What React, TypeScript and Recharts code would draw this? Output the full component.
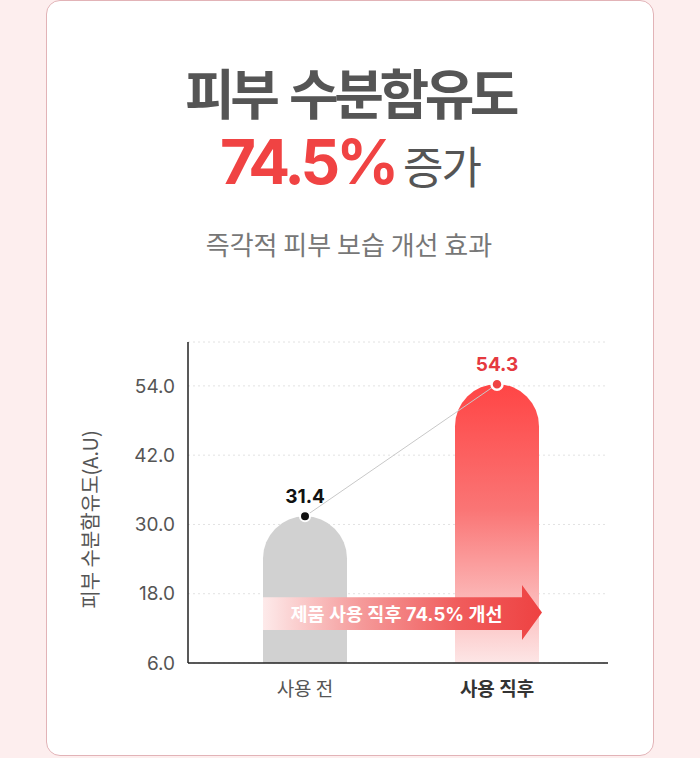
import React from 'react';
import {
  ComposedChart,
  Bar,
  Line,
  XAxis,
  YAxis,
  CartesianGrid,
  Cell,
  LabelList,
  ReferenceArea,
} from 'recharts';

const categories = ['사용 전', '사용 직후'];
const values = [31.4, 54.3];
const yTicks = [6, 18, 30, 42, 54];
const yDomain = [6, 61.6];
const arrowRange = [10, 19.5];
const titleText = '피부 수분함유도';
const percentText = '74.5%';
const increaseText = '증가';
const subtitleText = '즉각적 피부 보습 개선 효과';
const yAxisLabel = '피부 수분함유도(A.U)';
const arrowText = '제품 사용 직후 74.5% 개선';

const data = categories.map((name, i) => ({ name, value: values[i] }));

const BAR_SIZE = 84;
const FONT = '"Inter", "Noto Sans CJK KR", sans-serif';
const KFONT = '"Noto Sans CJK KR", "Inter", sans-serif';
const RED = '#f04343';

const XTick = (props: any) => {
  const { x, y, payload, index } = props;
  const bold = index === 1;
  return (
    <text
      x={x}
      y={y + 33}
      textAnchor="middle"
      fontSize={19}
      fontFamily={KFONT}
      fontWeight={bold ? 700 : 400}
      fill={bold ? '#333' : '#555'}
    >
      {payload.value}
    </text>
  );
};

const Dot = (props: any) => {
  const { cx, cy, index } = props;
  if (cx == null || cy == null) return null;
  if (index === 1) {
    return <circle key={`d${index}`} cx={cx} cy={cy} r={5.5} fill={RED} stroke="#fff" strokeWidth={2.5} />;
  }
  return <circle key={`d${index}`} cx={cx} cy={cy} r={5} fill="#111" stroke="#fff" strokeWidth={2} />;
};

const ValueLabel = (props: any) => {
  const { x, y, value, index } = props;
  return (
    <text
      x={x}
      y={y - 20}
      textAnchor="middle"
      dominantBaseline="central"
      fontSize={19}
      fontWeight={700}
      fontFamily={FONT}
      fill={index === 1 ? '#e5393f' : '#111'}
    >
      {Number(value).toFixed(1)}
    </text>
  );
};

const ArrowShape = (props: any) => {
  const { x, y, width, height } = props;
  const band = width / 2;
  const left = x + band / 2 - BAR_SIZE / 2;
  const tip = x + width - band / 2 + BAR_SIZE / 2 + 3;
  const headBase = tip - 20;
  const bodyTop = y + height * 0.22;
  const bodyBot = y + height * 0.82;
  const midY = (y + height / 2);
  const d = `M${left},${bodyTop} L${headBase},${bodyTop} L${headBase},${y} L${tip},${midY} L${headBase},${y + height} L${headBase},${bodyBot} L${left},${bodyBot} Z`;
  return (
    <g>
      <path d={d} fill="url(#arrowGrad)" />
      <text
        x={(left + headBase) / 2 + 4}
        y={(bodyTop + bodyBot) / 2}
        textAnchor="middle"
        dominantBaseline="central"
        fontSize={18.5}
        fontWeight={700}
        fontFamily={FONT}
        fill="#fff"
      >
        {arrowText}
      </text>
    </g>
  );
};

const YLabel = (props: any) => {
  const vb = props.viewBox || {};
  const cx = vb.x + 29;
  const cy = vb.y + vb.height / 2 + 17;
  return (
    <text
      x={cx}
      y={cy}
      transform={`rotate(-90, ${cx}, ${cy})`}
      textAnchor="middle"
      dominantBaseline="central"
      fontSize={20}
      fontFamily={KFONT}
      fill="#555"
    >
      {yAxisLabel}
    </text>
  );
};

export default function App() {
  return (
    <div
      style={{
        position: 'absolute',
        left: 0,
        top: 0,
        width: 700,
        height: 758,
        background: '#fdeeee',
        overflow: 'hidden',
      }}
    >
      <div
        style={{
          position: 'absolute',
          left: 46,
          top: 0,
          width: 606,
          height: 754,
          background: '#fff',
          border: '1.5px solid #e2b3b7',
          borderRadius: 14,
        }}
      />
      <svg width={700} height={300} style={{ position: 'absolute', left: 0, top: 0 }}>
        <text
          x={350}
          y={115}
          textAnchor="middle"
          fontSize={54}
          fontWeight={700}
          fontFamily={KFONT}
          fill="#555"
          letterSpacing={-4.5}
          wordSpacing={6}
        >
          {titleText}
        </text>
        <text x={350} y={184} textAnchor="middle">
          <tspan fontSize={62} fontWeight={700} fontFamily={FONT} fill={RED} letterSpacing={-4}>
            {percentText}
          </tspan>
          <tspan fontSize={44} fontWeight={400} fontFamily={KFONT} fill="#555" dx={8} letterSpacing={-2}>
            {increaseText}
          </tspan>
        </text>
        <text
          x={349}
          y={255}
          textAnchor="middle"
          fontSize={26}
          fontWeight={400}
          fontFamily={KFONT}
          fill="#777"
        >
          {subtitleText}
        </text>
      </svg>
      <div style={{ position: 'absolute', left: 60, top: 330 }}>
        <ComposedChart
          width={600}
          height={380}
          data={data}
          margin={{ top: 12, right: 52, left: 0, bottom: 0 }}
        >
          <defs>
            <linearGradient id="redGrad" x1="0" y1="0" x2="0" y2="1">
              <stop offset="0" stopColor="#ff4545" />
              <stop offset="0.45" stopColor="#fa7575" />
              <stop offset="1" stopColor="#fde6e6" />
            </linearGradient>
            <linearGradient id="arrowGrad" x1="0" y1="0" x2="1" y2="0">
              <stop offset="0" stopColor="#fdeaea" />
              <stop offset="0.35" stopColor="#f59a9a" />
              <stop offset="0.7" stopColor="#f05c5c" />
              <stop offset="1" stopColor="#ee4242" />
            </linearGradient>
          </defs>
          <CartesianGrid vertical={false} stroke="#e2e2e2" strokeDasharray="2 3" />
          <XAxis
            dataKey="name"
            tickLine={false}
            tickSize={0}
            tickMargin={0}
            axisLine={{ stroke: '#222', strokeWidth: 1.5 }}
            padding={{ left: 21, right: 15 }}
            height={47}
            tick={<XTick />}
            interval={0}
          />
          <YAxis
            type="number"
            domain={yDomain}
            ticks={yTicks}
            allowDataOverflow
            width={128}
            tickLine={false}
            tickSize={0}
            tickMargin={13}
            axisLine={{ stroke: '#222', strokeWidth: 1.5 }}
            tick={{ fontSize: 19, fill: '#555', fontFamily: FONT }}
            tickFormatter={(v: number) => v.toFixed(1)}
            label={<YLabel />}
          />
          <Bar dataKey="value" barSize={BAR_SIZE} radius={[BAR_SIZE / 2, BAR_SIZE / 2, 0, 0]} isAnimationActive={false}>
            {data.map((d, i) => (
              <Cell key={d.name} fill={i === 1 ? 'url(#redGrad)' : '#d1d1d1'} />
            ))}
          </Bar>
          <ReferenceArea
            {...({ zIndex: 450 } as any)}
            x1={categories[0]}
            x2={categories[1]}
            y1={arrowRange[0]}
            y2={arrowRange[1]}
            ifOverflow="visible"
            shape={<ArrowShape />}
          />
          <Line
            type="linear"
            dataKey="value"
            stroke="#c8c8c8"
            strokeWidth={1}
            dot={<Dot />}
            activeDot={false}
            isAnimationActive={false}
          >
            <LabelList dataKey="value" content={<ValueLabel />} />
          </Line>
        </ComposedChart>
      </div>
    </div>
  );
}
